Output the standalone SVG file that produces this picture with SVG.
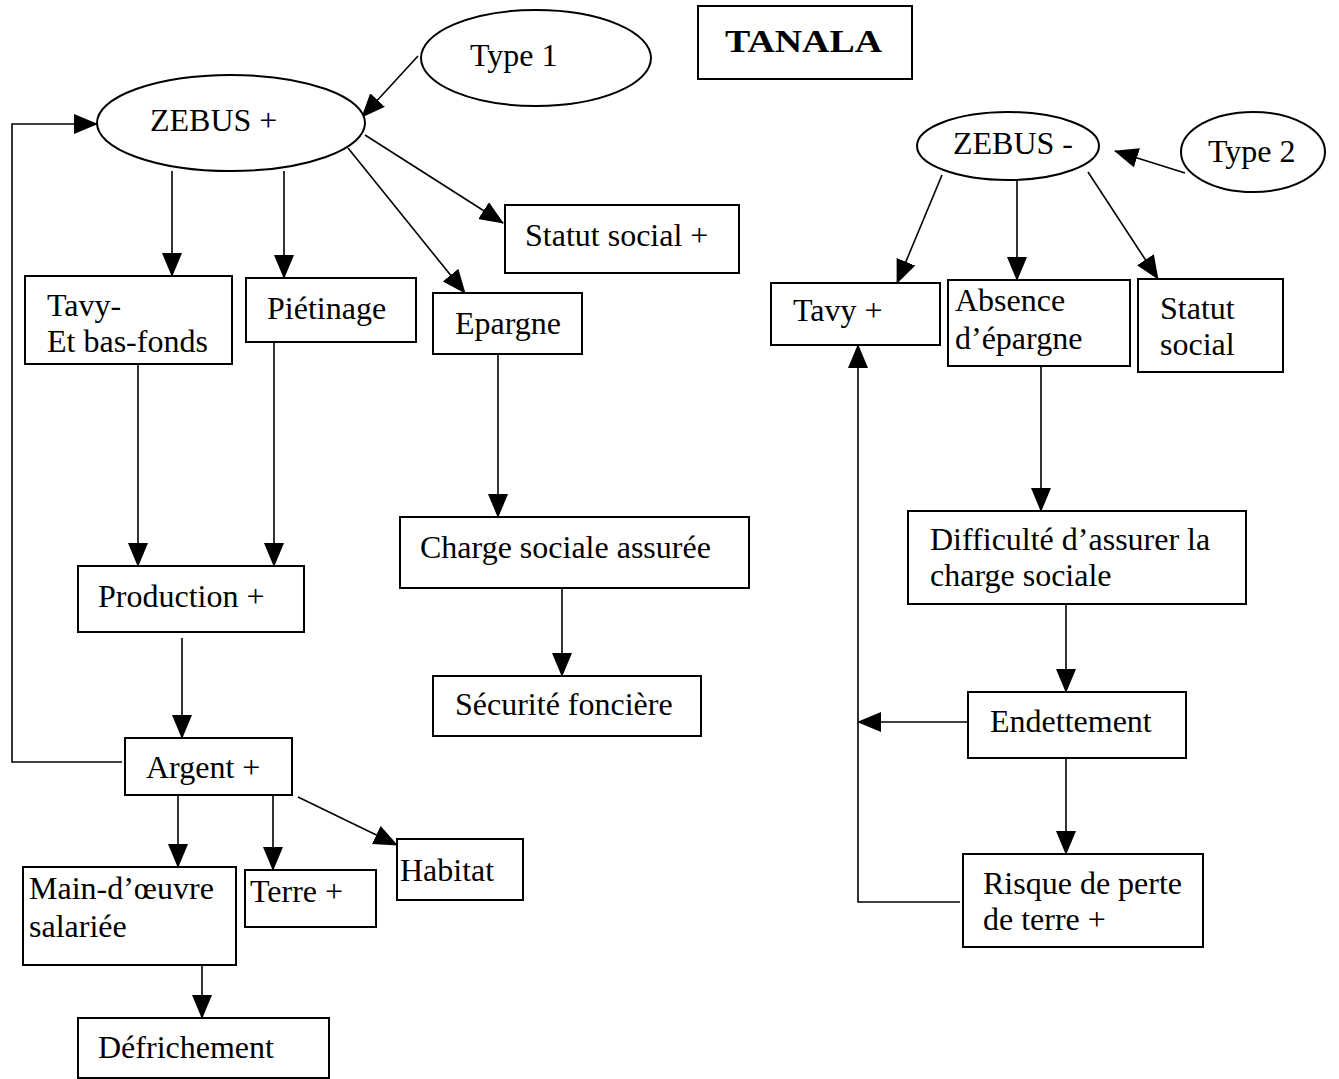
<svg xmlns="http://www.w3.org/2000/svg" width="1339" height="1079" viewBox="0 0 1339 1079">
<style>
.b{fill:#fff;stroke:#000;stroke-width:2}
.t{font-family:"Liberation Serif","Times New Roman",serif;font-size:32px;fill:#000}
.c{fill:none;stroke:#000;stroke-width:1.6}
</style>
<defs>
<marker id="a" markerUnits="userSpaceOnUse" markerWidth="24" markerHeight="20" viewBox="0 0 24 20" refX="23" refY="10" orient="auto">
<path d="M0,0L24,10L0,20z" fill="#000"/>
</marker>
</defs>
<rect width="1339" height="1079" fill="#fff"/>
<g id="connectors">
<path class="c" d="M418,56L362,117" marker-end="url(#a)"/>
<path class="c" d="M172,171L172,276" marker-end="url(#a)"/>
<path class="c" d="M284,171L284,278" marker-end="url(#a)"/>
<path class="c" d="M348,148L465,293" marker-end="url(#a)"/>
<path class="c" d="M365,135L503,223" marker-end="url(#a)"/>
<path class="c" d="M138,364L138,566" marker-end="url(#a)"/>
<path class="c" d="M274,342L274,566" marker-end="url(#a)"/>
<path class="c" d="M498,354L498,517" marker-end="url(#a)"/>
<path class="c" d="M562,588L562,676" marker-end="url(#a)"/>
<path class="c" d="M182,638L182,738" marker-end="url(#a)"/>
<path class="c" d="M122,762L12,762L12,124L97,124" marker-end="url(#a)"/>
<path class="c" d="M178,795L178,867" marker-end="url(#a)"/>
<path class="c" d="M273,795L273,870" marker-end="url(#a)"/>
<path class="c" d="M298,797L397,845" marker-end="url(#a)"/>
<path class="c" d="M202,965L202,1018" marker-end="url(#a)"/>
<path class="c" d="M1185,173L1115,151" marker-end="url(#a)"/>
<path class="c" d="M942,175L897,283" marker-end="url(#a)"/>
<path class="c" d="M1017,180L1017,280" marker-end="url(#a)"/>
<path class="c" d="M1088,172L1158,279" marker-end="url(#a)"/>
<path class="c" d="M1041,366L1041,511" marker-end="url(#a)"/>
<path class="c" d="M1066,604L1066,692" marker-end="url(#a)"/>
<path class="c" d="M1066,758L1066,854" marker-end="url(#a)"/>
<path class="c" d="M968,722L858,722" marker-end="url(#a)"/>
<path class="c" d="M960,902L858,902L858,345" marker-end="url(#a)"/>
</g>
<g id="type1"><ellipse class="b" cx="536" cy="58" rx="115" ry="48"/><text class="t" x="470" y="66">Type 1</text></g>
<g id="tanala"><rect class="b" x="698" y="6" width="214" height="73"/><text class="t" x="725" y="52" font-weight="bold" font-size="38" textLength="157" lengthAdjust="spacingAndGlyphs">TANALA</text></g>
<g id="zebus-plus"><ellipse class="b" cx="231" cy="123" rx="134" ry="48"/><text class="t" x="150" y="131">ZEBUS +</text></g>
<g id="statut-plus"><rect class="b" x="505" y="205" width="234" height="68"/><text class="t" x="525" y="246">Statut social +</text></g>
<g id="tavy-minus"><rect class="b" x="25" y="276" width="207" height="88"/><text class="t" x="47" y="316">Tavy-</text><text class="t" x="47" y="352">Et bas-fonds</text></g>
<g id="pietinage"><rect class="b" x="246" y="278" width="170" height="64"/><text class="t" x="267" y="319">Piétinage</text></g>
<g id="epargne"><rect class="b" x="433" y="293" width="149" height="61"/><text class="t" x="455" y="334">Epargne</text></g>
<g id="charge"><rect class="b" x="400" y="517" width="349" height="71"/><text class="t" x="420" y="558">Charge sociale assurée</text></g>
<g id="production"><rect class="b" x="78" y="566" width="226" height="66"/><text class="t" x="98" y="607">Production +</text></g>
<g id="securite"><rect class="b" x="433" y="676" width="268" height="60"/><text class="t" x="455" y="715">Sécurité foncière</text></g>
<g id="argent"><rect class="b" x="125" y="738" width="167" height="57"/><text class="t" x="146" y="778">Argent +</text></g>
<g id="habitat"><rect class="b" x="397" y="839" width="126" height="61"/><text class="t" x="400" y="881">Habitat</text></g>
<g id="main-oeuvre"><rect class="b" x="23" y="867" width="213" height="98"/><text class="t" x="29" y="899">Main-d’œuvre</text><text class="t" x="29" y="937">salariée</text></g>
<g id="terre"><rect class="b" x="245" y="870" width="131" height="57"/><text class="t" x="250" y="902">Terre +</text></g>
<g id="defrichement"><rect class="b" x="78" y="1018" width="251" height="60"/><text class="t" x="98" y="1058">Défrichement</text></g>
<g id="type2"><ellipse class="b" cx="1253" cy="152" rx="72" ry="40"/><text class="t" x="1208" y="162">Type 2</text></g>
<g id="zebus-minus"><ellipse class="b" cx="1008" cy="146" rx="91" ry="34"/><text class="t" x="953" y="154">ZEBUS -</text></g>
<g id="tavy-plus"><rect class="b" x="771" y="283" width="169" height="62"/><text class="t" x="793" y="321">Tavy +</text></g>
<g id="absence"><rect class="b" x="948" y="280" width="182" height="86"/><text class="t" x="955" y="311">Absence</text><text class="t" x="955" y="349">d’épargne</text></g>
<g id="statut"><rect class="b" x="1138" y="279" width="145" height="93"/><text class="t" x="1160" y="319">Statut</text><text class="t" x="1160" y="355">social</text></g>
<g id="difficulte"><rect class="b" x="908" y="511" width="338" height="93"/><text class="t" x="930" y="550">Difficulté d’assurer la</text><text class="t" x="930" y="586">charge sociale</text></g>
<g id="endettement"><rect class="b" x="968" y="692" width="218" height="66"/><text class="t" x="990" y="732">Endettement</text></g>
<g id="risque"><rect class="b" x="963" y="854" width="240" height="93"/><text class="t" x="983" y="894">Risque de perte</text><text class="t" x="983" y="930">de terre +</text></g>
</svg>
